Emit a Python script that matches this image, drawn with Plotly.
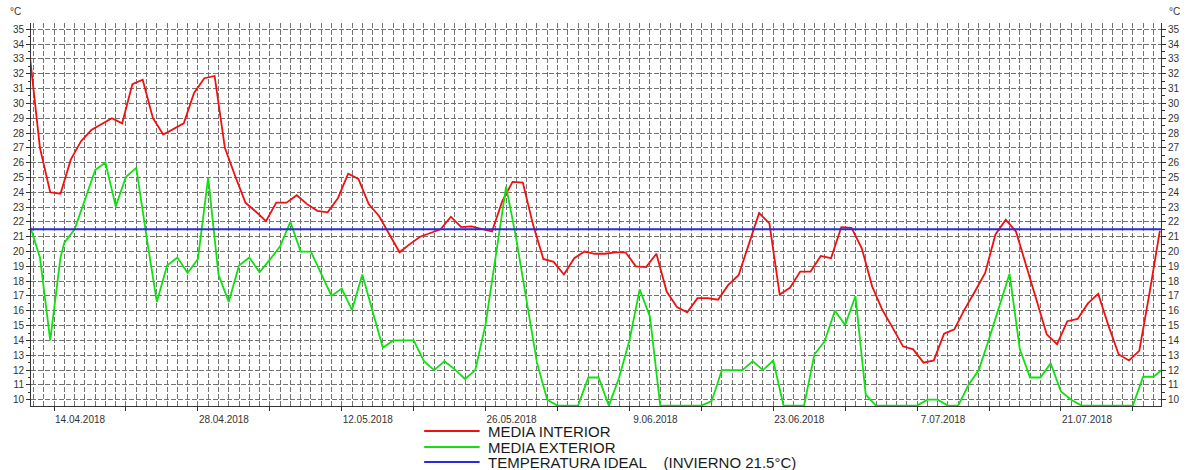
import pandas as pd
import plotly.graph_objects as go

# Daily mean temperatures, °C
interior_temp = [
    33.3, 27.0, 24.0, 23.9, 26.2, 27.45, 28.2, 28.6, 29.0, 28.65,
    31.3, 31.6, 29.0, 27.9, 28.3, 28.65, 30.7, 31.7, 31.85, 27.0,
    25.1, 23.3, 22.7, 22.05, 23.3, 23.3, 23.8, 23.2, 22.75, 22.65,
    23.6, 25.25, 24.9, 23.2, 22.4, 21.2, 19.95, 20.5, 21.0, 21.25,
    21.5, 22.35, 21.65, 21.7, 21.5, 21.35, 23.4, 24.7, 24.65, 21.8,
    19.5, 19.3, 18.45, 19.55, 20.0, 19.85, 19.85, 19.95, 19.95, 19.0,
    18.95, 19.85, 17.3, 16.25, 15.9, 16.85, 16.85, 16.75, 17.75, 18.4,
    20.5, 22.6, 21.9, 17.1, 17.55, 18.65, 18.65, 19.7, 19.55, 21.65,
    21.6, 20.2, 17.65, 16.05, 14.85, 13.6, 13.4, 12.5, 12.65, 14.45,
    14.75, 16.1, 17.3, 18.55, 21.15, 22.15, 21.35, 19.0, 16.6, 14.4,
    13.75, 15.3, 15.45, 16.5, 17.15, 15.0, 13.05, 12.65, 13.3, 17.2,
    21.4,
]
exterior_temp = [
    21.8, 19.6, 14.0, 19.6,
    20.6, 21.5, 23.5, 25.5, 26.0, 23.05, 25.05, 25.65, 21.0, 16.6,
    19.05, 19.6, 18.55, 19.5, 25.0, 18.45, 16.6, 19.05, 19.6, 18.6,
    19.45, 20.35, 22.0, 20.0, 20.0, 18.5, 17.0, 17.5, 16.05, 18.45,
    16.0, 13.5, 14.0, 14.0, 14.0, 12.6, 12.0, 12.6, 12.05, 11.4,
    12.0, 15.1, 19.7, 24.4, 20.8, 16.6, 12.5, 10.0, 9.6, 9.6,
    9.6, 11.5, 11.5, 9.6, 11.5, 14.0, 17.45, 15.6, 9.6, 9.6,
    9.6, 9.6, 9.6, 9.9, 12.0, 12.0, 12.0, 12.6, 12.0, 12.65,
    9.6, 9.6, 9.6, 13.05, 13.95, 16.0, 15.05, 17.0, 10.35, 9.6,
    9.6, 9.6, 9.6, 9.6, 10.0, 10.0, 9.6, 9.6, 11.0, 12.0,
    14.1, 16.3, 18.5, 13.4, 11.5, 11.5, 12.45, 10.55, 10.0, 9.6,
    9.6, 9.6, 9.6, 9.6, 9.6, 11.55, 11.55, 12.1,
]
IDEAL_TEMP = 21.5

series_names = [
    "MEDIA INTERIOR",
    "MEDIA EXTERIOR",
    "TEMPERATURA IDEAL\u00a0\u00a0\u00a0\u00a0(INVIERNO 21.5°C)",
]
series_colors = ["#f01010", "#10e010", "#2a2ae0"]

label_dates = ["2018-04-14", "2018-04-28", "2018-05-12", "2018-05-26",
               "2018-06-09", "2018-06-23", "2018-07-07", "2018-07-21"]
label_text = ["14.04.2018", "28.04.2018", "12.05.2018", "26.05.2018",
              "9.06.2018", "23.06.2018", "7.07.2018", "21.07.2018"]

# Indoor means are logged mid-afternoon; the outdoor logger switches to midnight
interior_dates = pd.date_range("2018-04-11 15:00", periods=len(interior_temp), freq="D")
exterior_dates = pd.date_range("2018-04-11 15:00", periods=4, freq="D").append(
    pd.date_range("2018-04-15 00:00", periods=len(exterior_temp) - 4, freq="D"))

X_RANGE = ["2018-04-11 18:06", "2018-07-30 17:46"]
Y_RANGE = [9.575, 35.425]

W, H = 1192, 470
PL, PR, PT, PB = 31, 1172, 23, 406


def paper_x(px):
    return (px - PL) / (PR - PL)


def paper_y(py):
    return (PB - py) / (PB - PT)


week_ticks = pd.date_range("2018-04-14", "2018-07-28", freq="7D")
label_map = dict(zip(pd.to_datetime(label_dates), label_text))
tick_text = [label_map.get(d, "") for d in week_ticks]

GRID = "#737373"
GRID_W = 1.4
GRID_DASH = "5px,2px"
AXIS_COL = "#333333"
FONT = "Liberation Sans, Arial, sans-serif"

fig = go.Figure()
fig.add_trace(go.Scatter(
    x=interior_dates, y=interior_temp, mode="lines", name=series_names[0],
    line=dict(color=series_colors[0], width=1.8), showlegend=False))
fig.add_trace(go.Scatter(
    x=exterior_dates, y=exterior_temp, mode="lines", name=series_names[1],
    line=dict(color=series_colors[1], width=1.8), showlegend=False, yaxis="y2"))

shapes = [dict(type="line", xref="paper", x0=0, x1=1, yref="y", y0=IDEAL_TEMP, y1=IDEAL_TEMP,
               line=dict(color=series_colors[2], width=2), layer="above")]

annotations = []
# Legend below the plot
legend_rows = [431, 447, 462]
for name, color, row in zip(series_names, series_colors, legend_rows):
    shapes.append(dict(type="line", xref="paper", yref="paper",
                       x0=paper_x(428), x1=paper_x(484), y0=paper_y(row), y1=paper_y(row),
                       line=dict(color=color, width=2)))
    annotations.append(dict(xref="paper", yref="paper", x=paper_x(490), y=paper_y(row),
                            xanchor="left", yanchor="middle", showarrow=False, text=name,
                            font=dict(family=FONT, size=15, color="#1a1a1a")))
# Unit labels above both y-axes
for px in (15, 1186):
    annotations.append(dict(xref="paper", yref="paper", x=paper_x(px), y=paper_y(12),
                            xanchor="center", yanchor="middle", showarrow=False, text="°C",
                            font=dict(family=FONT, size=10, color=AXIS_COL)))

yaxis_common = dict(
    range=Y_RANGE, dtick=1, tick0=10, ticks="outside", ticklen=4, tickcolor=AXIS_COL,
    showline=True, linecolor=AXIS_COL, linewidth=1, zeroline=False,
    tickfont=dict(family=FONT, size=10, color=AXIS_COL),
    minor=dict(dtick=0.5, tick0=10, ticks="outside", ticklen=2.5, tickcolor=AXIS_COL, showgrid=False),
)

fig.update_layout(
    width=W, height=H,
    margin=dict(l=PL, r=W - PR, t=PT, b=H - PB),
    paper_bgcolor="white", plot_bgcolor="white",
    font=dict(family=FONT),
    xaxis=dict(
        type="date", range=X_RANGE,
        tickmode="array", tickvals=week_ticks, ticktext=tick_text,
        ticks="outside", ticklen=4, tickcolor=AXIS_COL, ticklabelshift=26,
        tickfont=dict(family=FONT, size=10, color=AXIS_COL),
        showline=True, linecolor=AXIS_COL, linewidth=1,
        showgrid=True, gridcolor=GRID, gridwidth=GRID_W, griddash=GRID_DASH,
        minor=dict(dtick=86400000, tick0="2018-04-14", showgrid=True,
                   gridcolor=GRID, gridwidth=GRID_W, griddash=GRID_DASH, ticks=""),
        zeroline=False,
    ),
    yaxis=dict(side="left", showgrid=True, gridcolor=GRID, gridwidth=GRID_W,
               griddash=GRID_DASH, **yaxis_common),
    yaxis2=dict(side="right", overlaying="y", showgrid=False, **yaxis_common),
    shapes=shapes,
    annotations=annotations,
    showlegend=False,
)

fig.write_html("out.html")
